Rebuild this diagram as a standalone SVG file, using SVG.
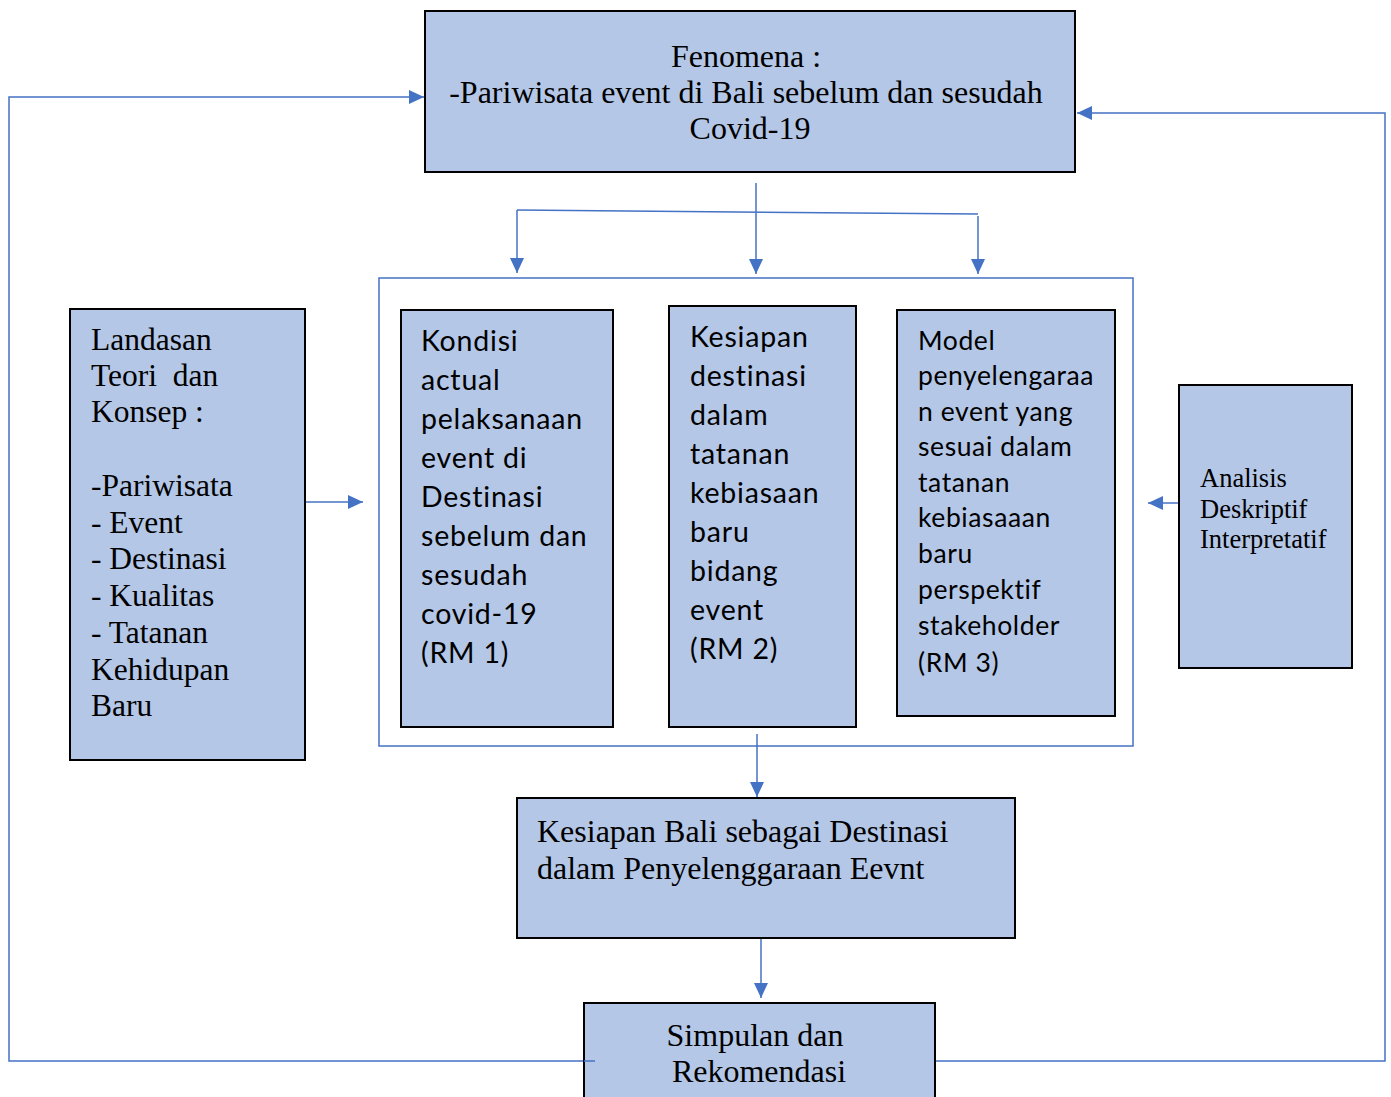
<svg xmlns="http://www.w3.org/2000/svg" width="1391" height="1097" viewBox="0 0 1391 1097">
  <style>
    .box { fill: #B4C7E7; stroke: #000; stroke-width: 2; }
    .link { fill: none; stroke: #4472C4; stroke-width: 1.5; }
    .serif { font-family: "Liberation Serif", "Times New Roman", serif; fill: #000; }
    .sans { font-family: Lato, "Carlito", "Liberation Sans", sans-serif; fill: #000; }
  </style>
  <defs>
    <marker id="arrow" markerUnits="userSpaceOnUse" markerWidth="16" markerHeight="14" refX="15" refY="7" orient="auto">
      <path d="M0,0 L15,7 L0,14 Z" fill="#4472C4"/>
    </marker>
  </defs>
  <rect width="1391" height="1097" fill="#fff"/>

  <!-- connectors -->
  <g id="connectors">
    <!-- feedback loops back to the top -->
    <polyline class="link" points="595,1061 9,1061 9,97 424,97" marker-end="url(#arrow)"/>
    <polyline class="link" points="935,1061 1385,1061 1385,113 1077,113" marker-end="url(#arrow)"/>
    <!-- fork from the top box -->
    <line class="link" x1="756" y1="183" x2="756" y2="212"/>
    <line class="link" x1="517" y1="210" x2="978" y2="214"/>
    <line class="link" x1="517" y1="210" x2="517" y2="273" marker-end="url(#arrow)"/>
    <line class="link" x1="756" y1="213" x2="756" y2="274" marker-end="url(#arrow)"/>
    <line class="link" x1="978" y1="216" x2="978" y2="274" marker-end="url(#arrow)"/>
    <!-- research-question container -->
    <rect class="link" x="379" y="278" width="754" height="468"/>
    <!-- side inputs -->
    <line class="link" x1="305" y1="502" x2="363" y2="502" marker-end="url(#arrow)"/>
    <line class="link" x1="1179" y1="503" x2="1148" y2="503" marker-end="url(#arrow)"/>
    <!-- downward flow -->
    <line class="link" x1="757" y1="734" x2="757" y2="797" marker-end="url(#arrow)"/>
    <line class="link" x1="761" y1="938" x2="761" y2="998" marker-end="url(#arrow)"/>
  </g>

  <g id="fenomena">
    <rect class="box" x="425" y="11" width="650" height="161"/>
    <text class="serif" font-size="32" text-anchor="middle">
      <tspan x="750" y="67">Fenomena :</tspan>
      <tspan x="750" y="103">-Pariwisata event di Bali sebelum dan sesudah</tspan>
      <tspan x="750" y="139">Covid-19</tspan>
    </text>
  </g>

  <g id="landasan">
    <rect class="box" x="70" y="309" width="235" height="451"/>
    <text class="serif" font-size="31.5">
      <tspan x="91" y="350">Landasan</tspan>
      <tspan x="91" y="386" xml:space="preserve">Teori  dan</tspan>
      <tspan x="91" y="422">Konsep :</tspan>
      <tspan x="91" y="496">-Pariwisata</tspan>
      <tspan x="91" y="533">- Event</tspan>
      <tspan x="91" y="569">- Destinasi</tspan>
      <tspan x="91" y="606">- Kualitas</tspan>
      <tspan x="91" y="643">- Tatanan</tspan>
      <tspan x="91" y="680">Kehidupan</tspan>
      <tspan x="91" y="716">Baru</tspan>
    </text>
  </g>

  <g id="rm1">
    <rect class="box" x="401" y="310" width="212" height="417"/>
    <text class="sans" font-size="28.5" letter-spacing="0.8">
      <tspan x="421" y="351">Kondisi</tspan>
      <tspan x="421" y="390">actual</tspan>
      <tspan x="421" y="429">pelaksanaan</tspan>
      <tspan x="421" y="468">event di</tspan>
      <tspan x="421" y="507">Destinasi</tspan>
      <tspan x="421" y="546">sebelum dan</tspan>
      <tspan x="421" y="585">sesudah</tspan>
      <tspan x="421" y="624">covid-19</tspan>
      <tspan x="421" y="663">(RM 1)</tspan>
    </text>
  </g>

  <g id="rm2">
    <rect class="box" x="669" y="306" width="187" height="421"/>
    <text class="sans" font-size="28.5" letter-spacing="0.8">
      <tspan x="690" y="347">Kesiapan</tspan>
      <tspan x="690" y="386">destinasi</tspan>
      <tspan x="690" y="425">dalam</tspan>
      <tspan x="690" y="464">tatanan</tspan>
      <tspan x="690" y="503">kebiasaan</tspan>
      <tspan x="690" y="542">baru</tspan>
      <tspan x="690" y="581">bidang</tspan>
      <tspan x="690" y="620">event</tspan>
      <tspan x="690" y="659">(RM 2)</tspan>
    </text>
  </g>

  <g id="rm3">
    <rect class="box" x="897" y="310" width="218" height="406"/>
    <text class="sans" font-size="26.5" letter-spacing="0.6">
      <tspan x="918" y="350">Model</tspan>
      <tspan x="918" y="385">penyelengaraa</tspan>
      <tspan x="918" y="421">n event yang</tspan>
      <tspan x="918" y="456">sesuai dalam</tspan>
      <tspan x="918" y="492">tatanan</tspan>
      <tspan x="918" y="527">kebiasaaan</tspan>
      <tspan x="918" y="563">baru</tspan>
      <tspan x="918" y="599">perspektif</tspan>
      <tspan x="918" y="635">stakeholder</tspan>
      <tspan x="918" y="672">(RM 3)</tspan>
    </text>
  </g>

  <g id="analisis">
    <rect class="box" x="1179" y="385" width="173" height="283"/>
    <text class="serif" font-size="26.5">
      <tspan x="1200" y="487">Analisis</tspan>
      <tspan x="1200" y="518">Deskriptif</tspan>
      <tspan x="1200" y="548">Interpretatif</tspan>
    </text>
  </g>

  <g id="kesiapan-bali">
    <rect class="box" x="517" y="798" width="498" height="140"/>
    <text class="serif" font-size="32">
      <tspan x="537" y="842">Kesiapan Bali sebagai Destinasi</tspan>
      <tspan x="537" y="879">dalam Penyelenggaraan Eevnt</tspan>
    </text>
  </g>

  <g id="simpulan">
    <rect class="box" x="584" y="1003" width="351" height="110"/>
    <text class="serif" font-size="32" text-anchor="middle">
      <tspan x="759" y="1046">Simpulan dan</tspan>
      <tspan x="759" y="1082">Rekomendasi</tspan>
    </text>
  </g>
  <!-- left loop starts just inside the conclusion box -->
  <line class="link" x1="584" y1="1061" x2="595" y2="1061"/>
</svg>
